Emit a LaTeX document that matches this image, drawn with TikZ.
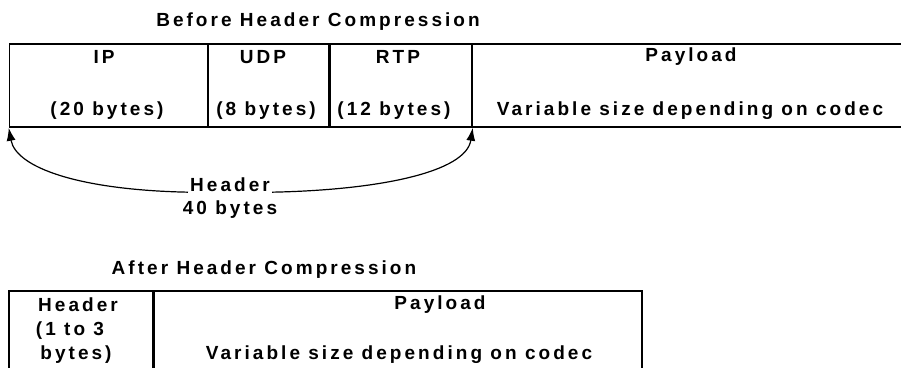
\documentclass[tikz,border=0pt]{standalone}
\usepackage{fontspec}
\setmainfont{Liberation Sans}[LetterSpace=16]
\usetikzlibrary{arrows.meta}
\begin{document}
\begin{tikzpicture}[x=1pt,y=-1pt,
  lab/.style={font=\fontsize{19}{22}\selectfont\bfseries, inner sep=0pt, text=black},
  cell/.style={draw=black, line width=1.5pt, inner sep=0pt},
  arr/.style={-{Latex[length=13pt,width=9pt]}, line width=1.2pt}]
\useasboundingbox (0,0) rectangle (901,367);
\fill[white] (0,0) rectangle (901,367);
% ---- before ----
\node[lab] (t1) at (318,22) {Before Header Compression};
\node[cell, minimum width=198.5pt, minimum height=83pt] (ip) at (108.75,85.5) {};
\node[cell, minimum width=120.5pt, minimum height=83pt] (udp) at (268.25,85.5) {};
\node[cell, minimum width=143.5pt, minimum height=83pt] (rtp) at (400.25,85.5) {};
\node[cell, minimum width=443pt, minimum height=83pt] (pay) at (693.5,85.5) {};
\draw[line width=2.5pt] (udp.north east) -- (udp.south east);
\node[lab] (ipa) at (104,57) {IP};
\node[lab] (ipb) at (107,111) {(20 bytes)};
\node[lab] (udpa) at (263,57) {UDP};
\node[lab] (udpb) at (266,111) {(8 bytes)};
\node[lab] (rtpa) at (398,57) {RTP};
\node[lab] (rtpb) at (394,111) {(12 bytes)};
\node[lab] (paya) at (691,57) {Payload};
\node[lab] (payb) at (690,111) {Variable size depending on codec};
% ---- header arrow ----
\node[lab] (hdr) at (230,185) {Header};
\node[lab] (hdrb) at (230,210) {40 bytes};
\draw[arr] ([xshift=-2pt]hdr.south west) .. controls (80,190) and (16,168) .. (ip.south west);
\draw[arr] ([xshift=2pt]hdr.south east) .. controls (380,190) and (466,172) .. (rtp.south east);
% ---- after ----
\node[lab] (t2) at (264,270) {After Header Compression};
\node[cell, minimum width=144pt, minimum height=99pt] (hc) at (81,340.5) {};
\node[cell, minimum width=489pt, minimum height=99pt] (pc) at (397.5,340.5) {};
\draw[line width=2.5pt] (hc.north east) -- (hc.south east);
\node[lab] (hca) at (78,305) {Header};
\node[lab] (hcb) at (70,331) {(1 to 3};
\node[lab] (hcc) at (76,355) {bytes)};
\node[lab] (pca) at (440,305) {Payload};
\node[lab] (pcb) at (399,355) {Variable size depending on codec};
\end{tikzpicture}
\end{document}
